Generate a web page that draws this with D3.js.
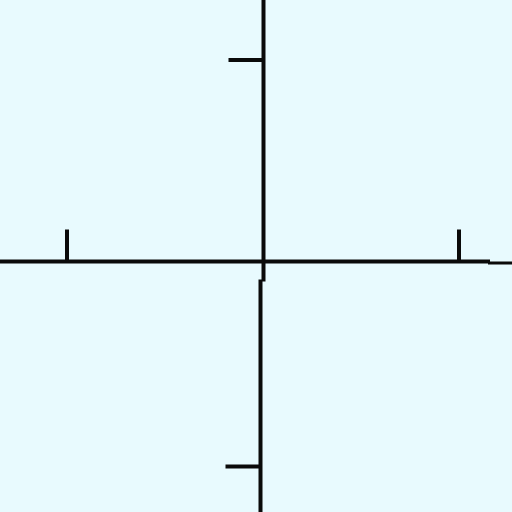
<!DOCTYPE html>
<html><head><meta charset="utf-8">
<script src="https://cdn.jsdelivr.net/npm/d3@7"></script>
<style>html,body{margin:0;padding:0;background:#e8fafe;}svg{display:block;}</style>
</head><body>
<script>
const xTicks = [-1, 1];
const yTicks = [-1, 1];
const xDomain = [-1, 1];
const yDomain = [-1, 1];

const W = 512, H = 512;
const svg = d3.select("body").append("svg").attr("width", W).attr("height", H);
svg.append("rect").attr("width", W).attr("height", H).attr("fill", "#e8fafe");

const x = d3.scaleLinear().domain(xDomain).range([66.5, 458.5]);
const y = d3.scaleLinear().domain(yDomain).range([466.5, 59.5]);
const x0 = 263.5, y0 = 261.5;
const SW = 4, C = "#0a0a0a";

// horizontal axis
const gx = svg.append("g").attr("transform", `translate(0,${y0})`)
  .call(d3.axisTop(x).tickValues(xTicks).tickSize(32).tickSizeOuter(0).tickFormat(""));
gx.select(".domain").attr("d", `M0,0H490`).attr("stroke", C).attr("stroke-width", SW);
gx.selectAll(".tick line").attr("stroke", C).attr("stroke-width", SW);
svg.append("line").attr("x1", 488).attr("x2", 512).attr("y1", y0 + 1.5).attr("y2", y0 + 1.5)
  .attr("stroke", C).attr("stroke-width", 3);

// vertical axis
const gy = svg.append("g").attr("transform", `translate(${x0},0)`)
  .call(d3.axisLeft(y).tickValues(yTicks).tickSize(35).tickSizeOuter(0).tickFormat(""));
gy.select(".domain").attr("d", `M0,0V${y0 + 20}`).attr("stroke", C).attr("stroke-width", SW);
gy.selectAll(".tick line").attr("stroke", C).attr("stroke-width", SW);
gy.selectAll(".tick").filter(d => d < 0).attr("transform", d => `translate(-3,${y(d)})`);
svg.append("line").attr("x1", x0 - 3).attr("x2", x0 - 3).attr("y1", y0 + 18).attr("y2", 512)
  .attr("stroke", C).attr("stroke-width", SW);
</script>
</body></html>
